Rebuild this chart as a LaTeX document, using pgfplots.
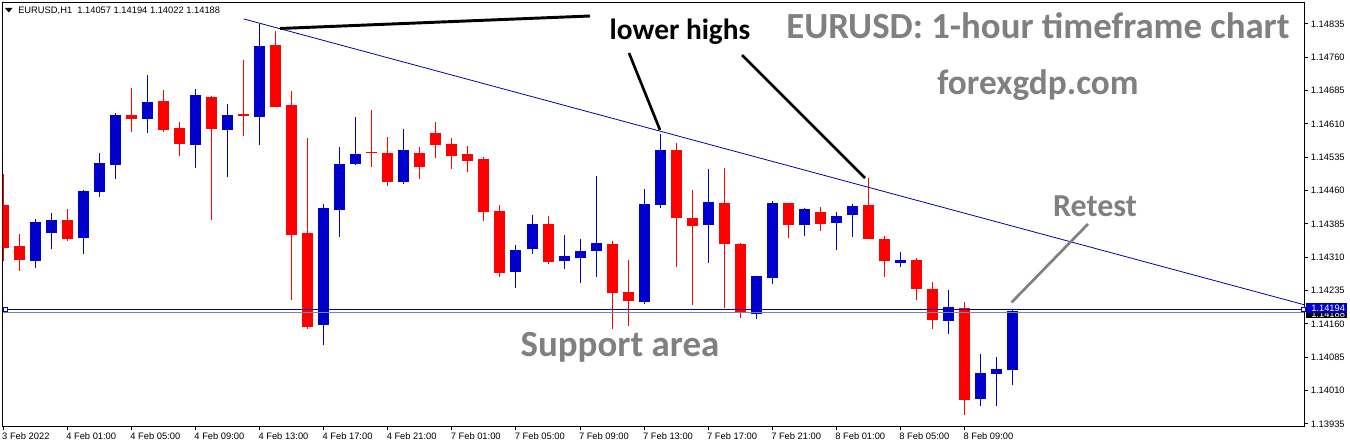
\documentclass[border=0pt]{standalone}
\usepackage{fontspec}
\usepackage{pgfplots}
\usepackage{pgfplotstable}
\pgfplotsset{compat=1.18}
\setmainfont{Liberation Sans}
\newfontfamily\carl{Carlito}
\definecolor{cblue}{HTML}{0000CC}
\definecolor{cred}{HTML}{FF0000}
\definecolor{tline}{HTML}{0000A8}
\definecolor{bidline}{HTML}{778899}
\definecolor{gtxt}{HTML}{808080}
\pgfplotstableread{
i o h l c
0 1.14428 1.14498 1.14302 1.14331
1 1.14336 1.14363 1.14279 1.14304
4 1.14394 1.14419 1.14347 1.14351
8 1.14630 1.14691 1.14592 1.14621
10 1.14662 1.14687 1.14592 1.14597
11 1.14601 1.14615 1.14538 1.14565
13 1.14671 1.14673 1.14394 1.14599
15 1.14633 1.14754 1.14583 1.14628
17 1.14788 1.14819 1.14648 1.14648
18 1.14653 1.14684 1.14214 1.14360
19 1.14365 1.14579 1.14149 1.14153
23 1.14547 1.14642 1.14513 1.14545
24 1.14545 1.14581 1.14471 1.14480
26 1.14545 1.14558 1.14486 1.14513
27 1.14590 1.14615 1.14534 1.14563
28 1.14565 1.14579 1.14509 1.14538
29 1.14543 1.14561 1.14502 1.14527
30 1.14531 1.14536 1.14392 1.14412
31 1.14414 1.14428 1.14266 1.14275
34 1.14385 1.14403 1.14295 1.14300
38 1.14340 1.14347 1.14149 1.14230
39 1.14232 1.14304 1.14156 1.14212
42 1.14552 1.14567 1.14288 1.14399
43 1.14399 1.14462 1.14203 1.14381
45 1.14432 1.14511 1.14196 1.14340
46 1.14340 1.14342 1.14174 1.14185
49 1.14432 1.14432 1.14354 1.14383
51 1.14412 1.14423 1.14369 1.14385
54 1.14428 1.14489 1.14351 1.14351
55 1.14351 1.14358 1.14266 1.14302
57 1.14304 1.14309 1.14214 1.14239
58 1.14239 1.14255 1.14149 1.14169
60 1.14196 1.14210 1.13955 1.13989
}\redcandles
\pgfplotstableread{
i o h l c
2 1.14302 1.14396 1.14286 1.14390
3 1.14365 1.14410 1.14329 1.14394
5 1.14354 1.14462 1.14318 1.14459
6 1.14457 1.14545 1.14446 1.14522
7 1.14518 1.14635 1.14486 1.14630
9 1.14621 1.14720 1.14590 1.14660
12 1.14563 1.14689 1.14511 1.14675
14 1.14597 1.14655 1.14491 1.14630
16 1.14626 1.14835 1.14563 1.14786
20 1.14158 1.14430 1.14113 1.14421
21 1.14417 1.14558 1.14356 1.14520
22 1.14520 1.14626 1.14518 1.14543
25 1.14480 1.14599 1.14475 1.14552
32 1.14277 1.14338 1.14241 1.14327
33 1.14329 1.14405 1.14318 1.14385
35 1.14302 1.14360 1.14284 1.14313
36 1.14309 1.14351 1.14252 1.14324
37 1.14324 1.14493 1.14266 1.14342
40 1.14210 1.14464 1.14205 1.14430
41 1.14428 1.14588 1.14421 1.14552
44 1.14383 1.14509 1.14297 1.14435
47 1.14183 1.14268 1.14171 1.14268
48 1.14264 1.14437 1.14250 1.14432
50 1.14383 1.14421 1.14358 1.14419
52 1.14387 1.14412 1.14327 1.14403
53 1.14405 1.14430 1.14356 1.14426
56 1.14297 1.14322 1.14288 1.14304
59 1.14167 1.14237 1.14138 1.14198
61 1.13991 1.14093 1.13976 1.14050
62 1.14048 1.14086 1.13976 1.14059
63 1.14057 1.14194 1.14022 1.14188
}\bluecandles
\begin{document}
\begin{tikzpicture}[x=0.75pt,y=-0.75pt]
\path[use as bounding box] (0,0) rectangle (1350,448);
\fill[white] (0,0) rectangle (1350,448);
\begin{axis}[
  at={(1.875pt,-320.25pt)}, anchor=south west,
  scale only axis, width=976.3pt, height=318.4pt,
  xmin=-0.05, xmax=81.2, ymin=1.13928, ymax=1.14883,
  axis line style={line width=0.75pt,black},
  tick style={line width=0.75pt,black},
  tick align=outside, major tick length=2.6pt,
  xtick pos=lower, ytick pos=upper,
  xtick={0,4,8,12,16,20,24,28,32,36,40,44,48,52,56,60},
  xticklabels={3 Feb 2022,4 Feb 01:00,4 Feb 05:00,4 Feb 09:00,4 Feb 13:00,4 Feb 17:00,4 Feb 21:00,7 Feb 01:00,7 Feb 05:00,7 Feb 09:00,7 Feb 13:00,7 Feb 17:00,7 Feb 21:00,8 Feb 01:00,8 Feb 05:00,8 Feb 09:00},
  ytick={1.13935,1.14010,1.14085,1.14160,1.14235,1.14310,1.14385,1.14460,1.14535,1.14610,1.14685,1.14760,1.14835},
  yticklabels={1.13935,1.14010,1.14085,1.14160,1.14235,1.14310,1.14385,1.14460,1.14535,1.14610,1.14685,1.14760,1.14835},
  scaled y ticks=false,
  xticklabel style={font=\fontsize{7}{8}\selectfont,anchor=north west,xshift=-1pt,yshift=0pt,inner xsep=0pt,inner ysep=1.5pt},
  yticklabel style={font=\fontsize{7}{8}\selectfont,anchor=west,xshift=1.2pt,inner xsep=1pt},
  every axis plot/.append style={forget plot},
  clip mode=individual,
]
% wicks
\addplot[draw=none,mark=none,error bars/.cd,y dir=plus,y explicit,error mark=none,error bar style={line width=0.75pt,cred}]
  table[x=i,y=l,y error expr=\thisrow{h}-\thisrow{l}] {\redcandles};
\addplot[draw=none,mark=none,error bars/.cd,y dir=plus,y explicit,error mark=none,error bar style={line width=0.75pt,cblue}]
  table[x=i,y=l,y error expr=\thisrow{h}-\thisrow{l}] {\bluecandles};
% bodies
\addplot[draw=none,mark=none,error bars/.cd,y dir=plus,y explicit,error mark=none,error bar style={line width=8.25pt,cred}]
  table[x=i,y=c,y error expr=\thisrow{o}-\thisrow{c}] {\redcandles};
\addplot[draw=none,mark=none,error bars/.cd,y dir=plus,y explicit,error mark=none,error bar style={line width=8.25pt,cblue}]
  table[x=i,y=o,y error expr=\thisrow{c}-\thisrow{o}] {\bluecandles};
% levels
\addplot[bidline,line width=0.75pt] coordinates {(-0.05,1.14186)(81.2,1.14186)};
\addplot[tline,line width=0.75pt,mark=square*,mark size=1.6pt,mark options={fill=white,draw=cblue,line width=0.75pt,solid}] coordinates {(0.13,1.14193)(81.15,1.14193)};
\addplot[tline,line width=0.6pt] coordinates {(15,1.14846)(81.2,1.14203)};
\end{axis}
% annotation strokes
\draw[black,line width=2.2pt] (280,28.5) -- (590,16);
\draw[black,line width=2pt] (629,53) -- (660,130);
\draw[black,line width=2pt] (742,55) -- (865,178);
\draw[gtxt,line width=2pt] (1011.5,302.5) -- (1088,224);
% header
\fill[black] (5,8) -- (12.5,8) -- (8.75,12.5) -- cycle;
\node[anchor=west,inner sep=0pt,font=\fontsize{7}{8}\selectfont] at (18,10.5) {EURUSD,H1\ \ 1.14057 1.14194 1.14022 1.14188};
% current price tags
\begin{scope}
\clip (1306,312) rectangle (1347,317.7);
\fill[black] (1306,312) rectangle (1347,317.7);
\node[anchor=west,inner sep=0pt,text=white,font=\fontsize{7}{8}\selectfont] at (1311,314.5) {1.14188};
\end{scope}
\fill[cblue] (1306,303) rectangle (1347,312.7);
\node[anchor=west,inner sep=0pt,text=white,font=\fontsize{7}{8}\selectfont] at (1311,308) {1.14194};
% texts
\node[anchor=center,inner sep=0pt,font=\carl\bfseries\fontsize{22}{24}\selectfont] at (680,32) {lower highs};
\node[anchor=center,inner sep=0pt,text=gtxt,font=\carl\bfseries\fontsize{27.6}{30}\selectfont] at (1038,26) {EURUSD: 1-hour timeframe chart};
\node[anchor=center,inner sep=0pt,text=gtxt,font=\carl\bfseries\fontsize{26.5}{30}\selectfont] at (1038,85.5) {forexgdp.com};
\node[anchor=center,inner sep=0pt,text=gtxt,font=\carl\bfseries\fontsize{24}{28}\selectfont] at (1095,206) {Retest};
\node[anchor=center,inner sep=0pt,text=gtxt,font=\carl\bfseries\fontsize{27.7}{30}\selectfont] at (620,347) {Support area};
\end{tikzpicture}
\end{document}
